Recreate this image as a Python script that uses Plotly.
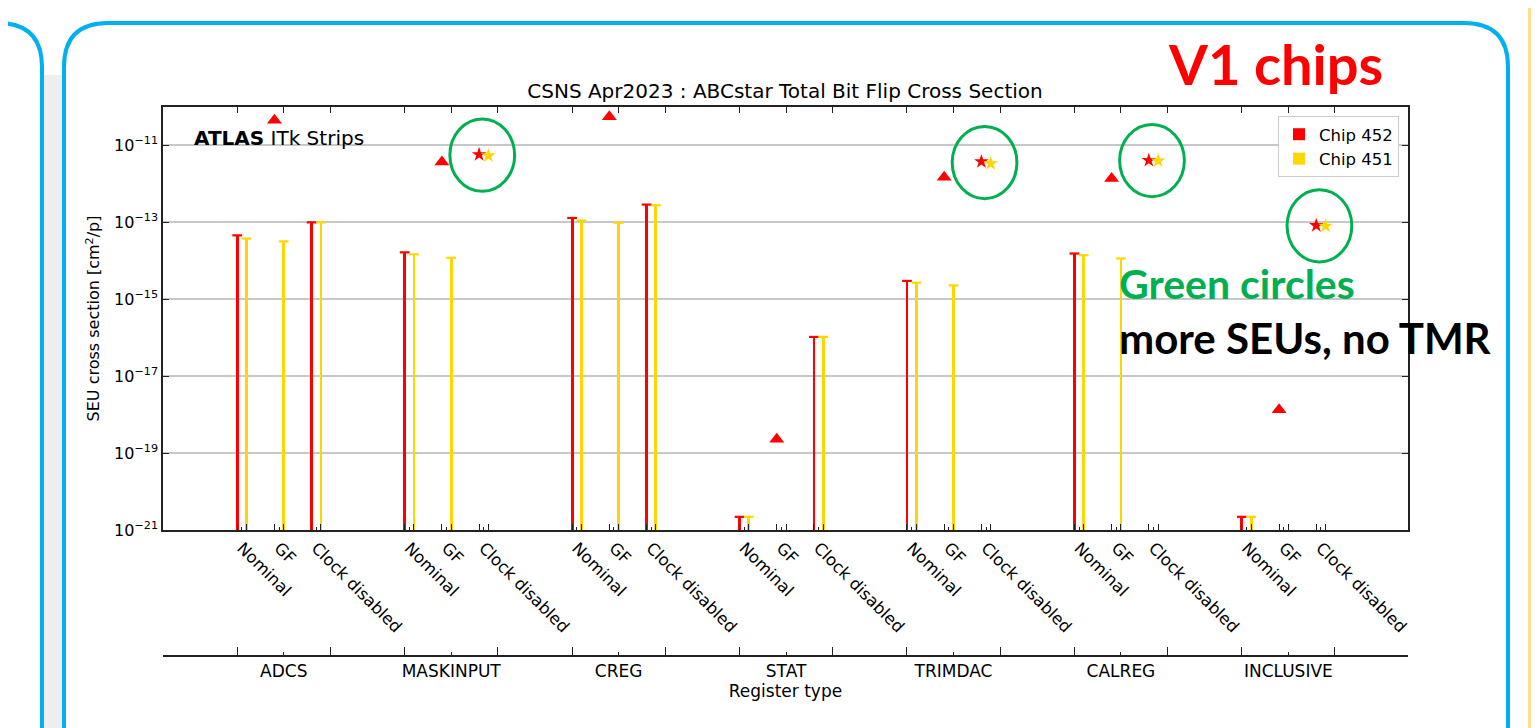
import math
import plotly.graph_objects as go

# ---------------- data ----------------
groups = ["ADCS", "MASKINPUT", "CREG", "STAT", "TRIMDAC", "CALREG", "INCLUSIVE"]
settings = ["Nominal", "GF", "Clock disabled"]

# bars (None = no bar)
nominal_452 = [4.6e-14, 1.66e-14, 1.3e-13, 2.2e-21, 3.0e-15, 1.55e-14, 2.2e-21]
nominal_451 = [3.8e-14, 1.48e-14, 1.12e-13, 2.2e-21, 2.7e-15, 1.4e-14, 2.2e-21]
gf_451 = [3.2e-14, 1.2e-14, 9.8e-14, None, 2.3e-15, 1.15e-14, None]
clock_452 = [1.0e-13, None, 2.9e-13, 1.05e-16, None, None, None]
clock_451 = [1.0e-13, None, 2.8e-13, 1.05e-16, None, None, None]
# GF chip 452 (triangles)
gf_452_tri = [4.5e-11, 3.7e-12, 5.6e-11, 2.3e-19, 1.5e-12, 1.38e-12, 1.33e-18]
# Clock disabled, no TMR (stars)
clock_452_star = [None, 5.8e-12, None, None, 3.8e-12, 4.1e-12, 8.3e-14]
clock_451_star = [None, 5.4e-12, None, None, 3.4e-12, 4.0e-12, 8.0e-14]
y_tick_vals = [1e-21, 1e-19, 1e-17, 1e-15, 1e-13, 1e-11]
y_tick_text = ["10<sup>\u221221</sup>", "10<sup>\u221219</sup>", "10<sup>\u221217</sup>",
               "10<sup>\u221215</sup>", "10<sup>\u221213</sup>", "10<sup>\u221211</sup>"]

RED = "#FF0000"
YEL = "#FFD700"
GREEN = "#00B050"
BLUE = "#00B0F0"
FONT = "DejaVu Sans"

# ---------------- layout geometry (screen px; page has an 8px body margin) ----------------
OX, OY = 8, 8
W, H = 1539 - OX, 728 - OY
S_LEFT, S_RIGHT, S_TOP, S_PLOTBOT, S_AX2 = 163, 1408, 107, 530, 656
L = S_LEFT - OX
R = W - (S_RIGHT - OX)
T = S_TOP - OY
B = H - (S_AX2 - OY)
PW, PH = W - L - R, H - T - B
YDOM0 = (S_AX2 - S_PLOTBOT) / PH

GS = 4.5      # group spacing (category units)
OFF = 0.125   # chip offset
XR = [-2.12, 31.34]
BASE = 1e-21


def px(x):
    return (x - OX - L) / PW


def py(y):
    return (H - B - (y - OY)) / PH


def cpos(g, k):
    return g * GS + k


fig = go.Figure()


def add_bars(vals_by_k, color, name, sign):
    xs, ys = [], []
    for k, vals in vals_by_k:
        for g, v in enumerate(vals):
            if v is not None:
                xs.append(cpos(g, k) + sign * OFF)
                ys.append(v)
    fig.add_trace(go.Bar(x=xs, y=[v - BASE for v in ys], base=[BASE] * len(ys),
                         width=0.075, marker=dict(color=color, line=dict(width=0)),
                         name=name, showlegend=True))
    fig.add_trace(go.Scatter(x=xs, y=ys, mode="markers",
                             marker=dict(symbol="line-ew", size=7,
                                         line=dict(color=color, width=2.2)),
                             showlegend=False, hoverinfo="skip"))


add_bars([(0, nominal_452), (2, clock_452)], RED, "Chip 452", -1)
add_bars([(0, nominal_451), (1, gf_451), (2, clock_451)], YEL, "Chip 451", +1)

# triangles (GF, chip 452)
fig.add_trace(go.Scatter(x=[cpos(g, 1) - OFF for g in range(len(groups))], y=gf_452_tri,
                         mode="markers", marker=dict(symbol="triangle-up", size=13, color=RED),
                         showlegend=False))
# stars
for vals, color, sign in [(clock_452_star, RED, -1), (clock_451_star, YEL, +1)]:
    xs = [cpos(g, 2) + sign * OFF for g, v in enumerate(vals) if v is not None]
    ys = [v for v in vals if v is not None]
    fig.add_trace(go.Scatter(x=xs, y=ys, mode="markers",
                             marker=dict(symbol="star", size=11, color=color, line=dict(width=0)),
                             showlegend=False))

# dummy traces so the secondary axes exist
fig.add_trace(go.Scatter(x=[0], y=[1e-15], xaxis="x2", mode="markers", opacity=0,
                         showlegend=False, hoverinfo="skip"))
fig.add_trace(go.Scatter(x=[0], y=[1e-15], xaxis="x3", mode="markers", opacity=0,
                         showlegend=False, hoverinfo="skip"))

shapes = []
# light grey gap between the slide panels
shapes.append(dict(type="rect", xref="paper", yref="paper", x0=px(44), x1=px(62),
                   y0=py(75), y1=py(740), fillcolor="#EEEEEE", line=dict(width=0),
                   layer="below"))
# green circles around the stars (shape coords on a log axis are data values)
for g in range(len(groups)):
    a, b = clock_452_star[g], clock_451_star[g]
    if a is None:
        continue
    cx = cpos(g, 2) - 0.04
    cy = (math.log10(a) + math.log10(b)) / 2
    shapes.append(dict(type="circle", xref="x", yref="y", x0=cx - 0.87, x1=cx + 0.87,
                       y0=10 ** (cy - 0.94), y1=10 ** (cy + 0.94),
                       line=dict(color=GREEN, width=3)))


def P(x, y):
    return f"{px(x):.5f},{py(y):.5f}"


# slide frames (rounded panels)
r = 44
lx, top, rx, bot = 64, 23, 1508, 738
main = (f"M {P(lx, bot)} L {P(lx, top + r)} Q {P(lx, top)} {P(lx + r, top)} "
        f"L {P(rx - r, top)} Q {P(rx, top)} {P(rx, top + r)} L {P(rx, bot)}")
shapes.append(dict(type="path", xref="paper", yref="paper", path=main,
                   line=dict(color=BLUE, width=4), layer="below"))
left = (f"M {P(-5, top)} L {P(42 - r, top)} Q {P(42, top)} {P(42, top + r)} L {P(42, bot)}")
shapes.append(dict(type="path", xref="paper", yref="paper", path=left,
                   line=dict(color=BLUE, width=4), layer="below"))
shapes.append(dict(type="rect", xref="paper", yref="paper", x0=px(1528), x1=px(1545),
                   y0=py(0), y1=py(740), fillcolor="#FFE08C", line=dict(width=0), layer="below"))

annotations = [
    dict(text="<b>ATLAS</b> ITk Strips", xref="paper", yref="paper", x=px(192), y=py(138),
         xanchor="left", yanchor="middle", showarrow=False,
         font=dict(family=FONT, size=20, color="black")),
    dict(text="<b>V1 chips</b>", xref="paper", yref="paper", x=px(1275), y=py(64),
         xanchor="center", yanchor="middle", showarrow=False,
         font=dict(family="Lato", size=56, color=RED)),
    dict(text="<b>Green circles</b>", xref="paper", yref="paper", x=px(1117), y=py(283),
         xanchor="left", yanchor="middle", showarrow=False,
         font=dict(family="Lato", size=41, color=GREEN)),
    dict(text="<b>more SEUs, no TMR</b>", xref="paper", yref="paper", x=px(1117), y=py(338),
         xanchor="left", yanchor="middle", showarrow=False,
         font=dict(family="Lato", size=42, color="black")),
]

centers = [cpos(g, k) for g in range(len(groups)) for k in range(3)]
bar_pos = [c + s * OFF for c in centers for s in (-1, 1)]
g_centers = [cpos(g, 0) + 1.125 for g in range(len(groups))]
g_bounds = [c + s * 1.25 for c in g_centers for s in (-1, 1)]

AX = "#222222"
fig.update_layout(
    width=W, height=H, margin=dict(l=L, r=R, t=T, b=B),
    paper_bgcolor="white", plot_bgcolor="white",
    font=dict(family=FONT, color="black"),
    barmode="overlay", bargap=0,
    title=dict(text="CSNS Apr2023 : ABCstar Total Bit Flip Cross Section",
               x=px(785), xanchor="center", xref="paper", y=1 - (91 - OY) / H,
               yref="container", yanchor="middle",
               font=dict(family=FONT, size=20, color="black")),
    xaxis=dict(range=XR, tickmode="array", tickvals=centers,
               ticktext=settings * len(groups), tickangle=45,
               tickfont=dict(family=FONT, size=16.5),
               ticks="inside", ticklen=3, tickwidth=1, tickcolor=AX,
               showline=True, linecolor=AX, linewidth=1.5, mirror=True,
               showgrid=False, zeroline=False,
               minor=dict(tickmode="array", tickvals=bar_pos, ticks="inside",
                          ticklen=6, tickwidth=1, tickcolor=AX)),
    xaxis2=dict(range=XR, overlaying="x", anchor="free", position=0, side="bottom",
                tickmode="array", tickvals=g_centers, ticktext=groups,
                tickfont=dict(family=FONT, size=17),
                ticks="inside", ticklen=3, tickcolor=AX,
                showline=True, linecolor=AX, linewidth=1.5, showgrid=False, zeroline=False,
                title=dict(text="Register type", font=dict(family=FONT, size=17), standoff=4),
                minor=dict(tickmode="array", tickvals=g_bounds, ticks="inside",
                           ticklen=8, tickwidth=1, tickcolor=AX)),
    xaxis3=dict(range=XR, overlaying="x", anchor="y", side="top",
                tickmode="array", tickvals=g_bounds + g_centers, showticklabels=False,
                ticks="inside", ticklen=6, tickcolor=AX,
                showline=False, showgrid=False, zeroline=False),
    yaxis=dict(type="log", range=[-21, -10], domain=[YDOM0, 1],
               tickmode="array", tickvals=y_tick_vals, ticktext=y_tick_text,
               tickfont=dict(family=FONT, size=16),
               ticks="inside", ticklen=6, tickcolor=AX,
               showline=True, linecolor=AX, linewidth=1.5, mirror="ticks",
               showgrid=True, gridcolor="#C8C8C8", gridwidth=1.5, zeroline=False,
               title=dict(text="SEU cross section [cm<sup>2</sup>/p]",
                          font=dict(family=FONT, size=16), standoff=10)),
    legend=dict(x=px(1399), xanchor="right", y=py(116), yanchor="top",
                bgcolor="white", bordercolor="#CCCCCC", borderwidth=1,
                font=dict(family=FONT, size=16.5), itemsizing="constant"),
    shapes=shapes, annotations=annotations,
)

fig.write_html("out.html")
